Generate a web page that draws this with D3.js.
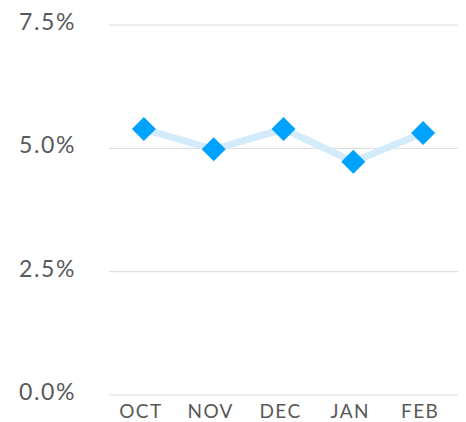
<!DOCTYPE html>
<html>
<head>
<meta charset="utf-8">
<script src="https://cdn.jsdelivr.net/npm/d3@7"></script>
<style>
  body { margin: 0; background: #fff; }
  text { font-family: "Lato", "DejaVu Sans", sans-serif; }
</style>
</head>
<body>
<div id="chart"></div>
<script>
const months = ["OCT", "NOV", "DEC", "JAN", "FEB"];
const rates = [5.39, 4.98, 5.39, 4.73, 5.31];
const yTicks = [0, 2.5, 5, 7.5];

const width = 466;
const height = 422;
const margin = {top: 25, left: 109, right: 8, bottom: 27};

const svg = d3.select("#chart")
    .append("svg")
    .attr("width", width)
    .attr("height", height);

const xScale = d3.scaleBand()
    .domain(months)
    .range([margin.left, width - margin.right]);

const yScale = d3.scaleLinear()
    .domain([0, 7.5])
    .range([height - margin.bottom, margin.top]);

// gridlines
svg.selectAll(".grid")
    .data(yTicks)
    .enter()
    .append("line")
    .attr("class", "grid")
    .attr("x1", margin.left)
    .attr("x2", width - margin.right)
    .attr("y1", d => yScale(d))
    .attr("y2", d => yScale(d))
    .attr("stroke", "#d9d9d9")
    .attr("stroke-width", 1);

// y labels
svg.selectAll(".ylab")
    .data(yTicks)
    .enter()
    .append("text")
    .attr("class", "ylab")
    .attr("x", 19)
    .attr("y", d => yScale(d) + 5)
    .attr("text-anchor", "start")
    .attr("fill", "#595959")
    .style("font-size", "23px")
    .style("letter-spacing", "1.6px")
    .text(d => d.toFixed(1) + "%");

// x labels
svg.selectAll(".xlab")
    .data(months)
    .enter()
    .append("text")
    .attr("class", "xlab")
    .attr("x", d => xScale(d) + xScale.bandwidth() / 2 - 3)
    .attr("y", height - 4)
    .attr("text-anchor", "middle")
    .attr("fill", "#595959")
    .style("font-size", "19px")
    .style("letter-spacing", "1.4px")
    .text(d => d);

// line
const line = d3.line()
    .x((d, i) => xScale(months[i]) + xScale.bandwidth() / 2)
    .y(d => yScale(d));

svg.append("path")
    .datum(rates)
    .attr("d", line)
    .attr("fill", "none")
    .attr("stroke", "#d3ebfb")
    .attr("stroke-width", 7);

// diamonds
svg.selectAll(".pt")
    .data(rates)
    .enter()
    .append("rect")
    .attr("class", "pt")
    .attr("x", -8.5)
    .attr("y", -8.5)
    .attr("width", 17)
    .attr("height", 17)
    .attr("fill", "#00a2ff")
    .attr("transform", (d, i) => `translate(${xScale(months[i]) + xScale.bandwidth() / 2},${yScale(d)}) rotate(45)`);
</script>
</body>
</html>
